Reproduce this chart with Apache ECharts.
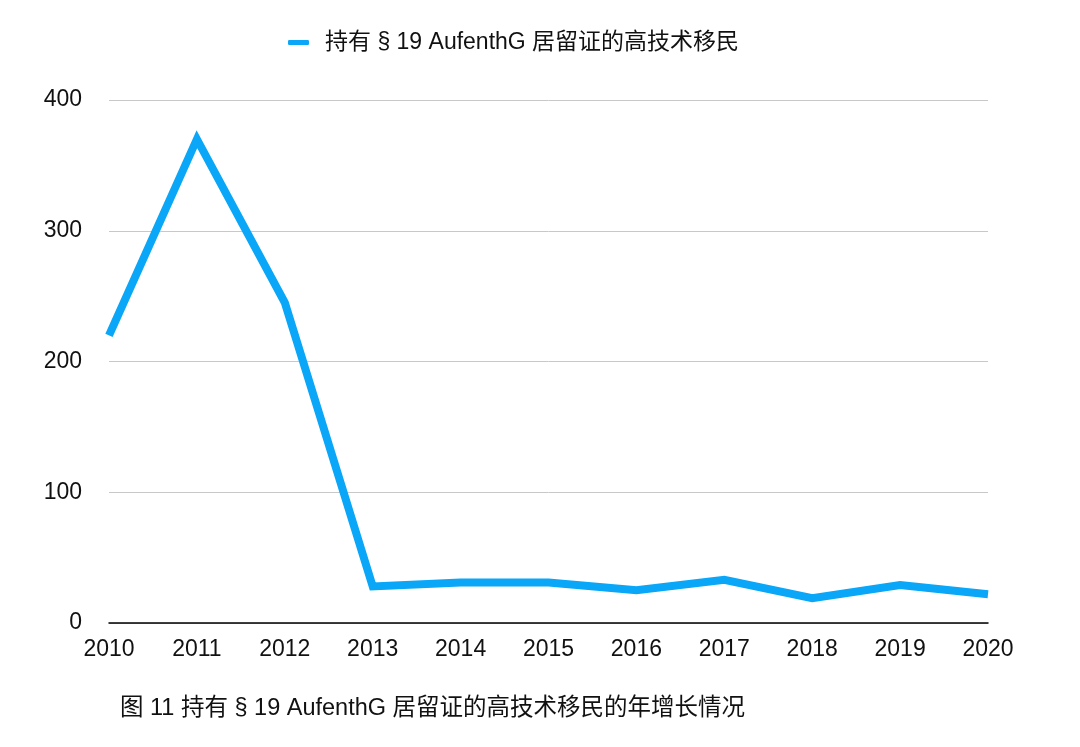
<!DOCTYPE html>
<html>
<head>
<meta charset="utf-8">
<script src="https://cdn.jsdelivr.net/npm/echarts@6/dist/echarts.min.js"></script>
<style>
html,body{margin:0;padding:0;background:#fff;}
#c{width:1080px;height:747px;}
</style>
</head>
<body>
<div id="c"></div>
<script>
const years = ['2010','2011','2012','2013','2014','2015','2016','2017','2018','2019','2020'];
const seriesName = '持有 § 19 AufenthG 居留证的高技术移民';
const values = [220, 370, 245, 28, 31, 31, 25, 33, 19, 29, 22];
const yTicks = [0, 100, 200, 300, 400];
const caption = '图 11 持有 § 19 AufenthG 居留证的高技术移民的年增长情况';

const font = '"Liberation Sans", "Noto Sans CJK SC", sans-serif';
const chart = echarts.init(document.getElementById('c'));
chart.setOption({
  backgroundColor: '#fff',
  animation: false,
  textStyle: { fontFamily: font },
  title: {
    text: caption,
    left: 115,
    top: 692,
    textStyle: { fontFamily: font, fontSize: 23.5, fontWeight: 'normal', color: '#111' }
  },
  legend: {
    data: [seriesName],
    top: 26,
    left: 283,
    itemWidth: 21,
    itemHeight: 5,
    itemGap: 10,
    icon: 'roundRect',
    textStyle: { fontFamily: font, fontSize: 23, color: '#111', padding: [0, 0, 0, 11] }
  },
  grid: { left: 109, right: 92, top: 100, bottom: 124, containLabel: false },
  xAxis: {
    type: 'category',
    data: years,
    boundaryGap: false,
    axisLine: { lineStyle: { color: '#000', width: 1.5 } },
    axisTick: { show: false },
    axisLabel: { fontSize: 23, color: '#111', margin: 15, fontFamily: font }
  },
  yAxis: {
    type: 'value',
    min: yTicks[0],
    max: yTicks[yTicks.length - 1],
    interval: 100,
    axisLine: { show: false },
    axisTick: { show: false },
    axisLabel: { fontSize: 23, color: '#111', margin: 27, fontFamily: font, padding: [8, 0, 0, 0] },
    splitLine: { lineStyle: { color: '#c8c8c8', width: 1 } }
  },
  series: [{
    name: seriesName,
    type: 'line',
    data: values,
    symbol: 'none',
    lineStyle: { color: '#0aa6f8', width: 8, join: 'miter' },
    itemStyle: { color: '#0aa6f8' }
  }]
});
</script>
</body>
</html>
